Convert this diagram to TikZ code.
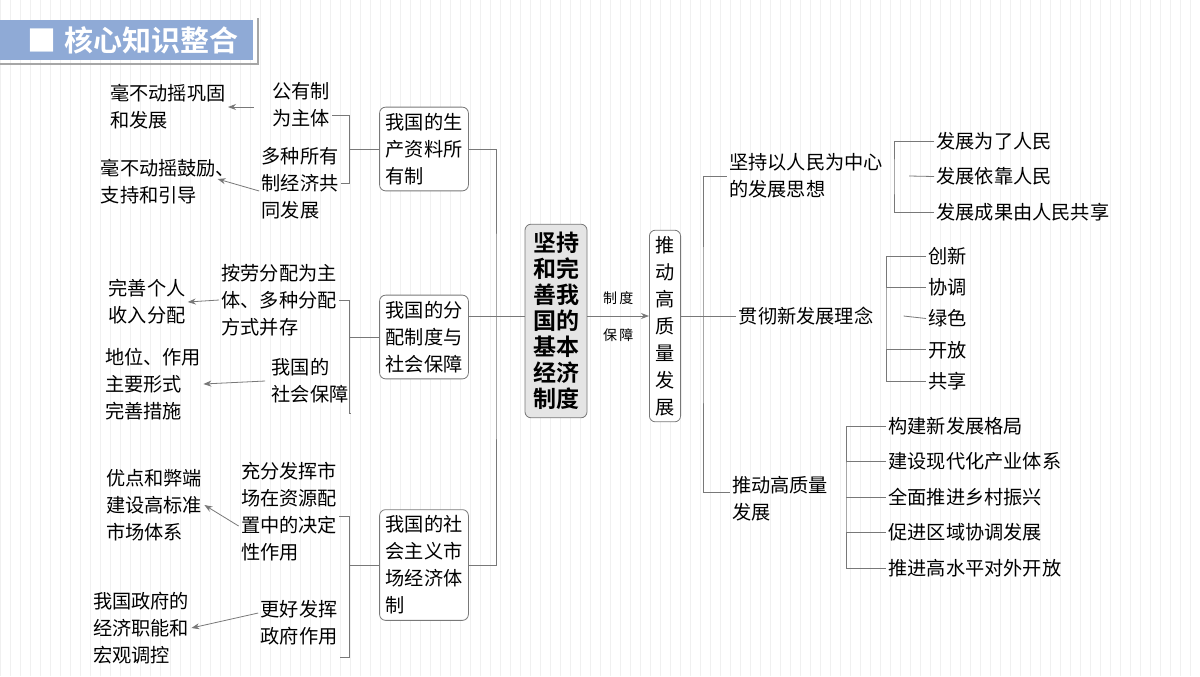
\documentclass[tikz,border=0pt]{standalone}
\usepackage{fontspec}
\newfontfamily\cjk{Noto Sans CJK SC}[BoldFont={Noto Sans CJK SC Bold}]
\usetikzlibrary{positioning,arrows.meta,calc}
\definecolor{titleblue}{RGB}{143,170,214}
\definecolor{linegray}{RGB}{120,120,120}
\tikzset{txt/.style={font=\cjk\fontsize{9.6}{13.5}\selectfont,align=left,inner sep=1pt},
	box/.style={txt,draw=linegray,rounded corners=3pt,fill=white,inner sep=3pt},
	link/.style={draw=linegray,thin},
	arr/.style={link,-{Stealth[length=4pt,width=3pt]}}}
\begin{document}
\begin{tikzpicture}[x=0.5pt,y=-0.5pt]
	\useasboundingbox (0,0) rectangle (1200,676);
	\fill[white] (0,0) rectangle (1200,676);
	\draw[gray!12,very thin,step=10] (0,0) grid (1200,676);
	% title
	\fill[titleblue] (0,20) rectangle (253,60);
	\draw[gray!70,line width=1pt] (0,64) -- (258,64) -- (258,18);
	\node[font=\cjk\bfseries\fontsize{14.5}{16}\selectfont,text=white,anchor=west] (title) at (20,40) {■\hspace{4pt}核心知识整合};
	% centre
	\node[box,fill=gray!20,font=\cjk\bfseries\fontsize{11.5}{13}\selectfont,inner sep=4pt] (core) at (556,321) {坚持\\和完\\善我\\国的\\基本\\经济\\制度};
	\node[box,inner sep=3pt] (goal) at (665,326) {推\\动\\高\\质\\量\\发\\展};
	\draw[arr] (core.east|-0,316) -- (goal.west|-0,316) node[midway,above=2pt,font=\cjk\fontsize{7}{8}\selectfont] (lab1) {制\,度}
		node[midway,below=3pt,font=\cjk\fontsize{7}{8}\selectfont] (lab2) {保\,障};
	% left branches
	\node[box] (pA) at (424,149) {我国的生\\产资料所\\有制};
	\node[box] (pB) at (424,337) {我国的分\\配制度与\\社会保障};
	\node[box] (pC) at (424,565) {我国的社\\会主义市\\场经济体\\制};
	\coordinate (jL) at (496,316);
	\draw[link] (core.west|-jL) -- (jL);
	\draw[link] (pA.east) -| (jL) |- (pC.east);
	\draw[link] (pB.east|-jL) -- (jL);
	\node[txt] (a1) at (301,105) {公有制\\为主体};
	\node[txt] (a2) at (300,183) {多种所有\\制经济共\\同发展};
	\node[txt] (b1) at (279,300) {按劳分配为主\\体、多种分配\\方式并存};
	\node[txt] (b2) at (310,381) {我国的\\社会保障};
	\node[txt] (c1) at (289,512) {充分发挥市\\场在资源配\\置中的决定\\性作用};
	\node[txt] (c2) at (299,623) {更好发挥\\政府作用};
	\draw[link] ([yshift=-5]a1.east) -| ([xshift=-15]pA.west) |- (a2.east);
	\draw[link] ([xshift=-15]pA.west) -- (pA.west);
	\draw[link] (b1.east) -| ([xshift=-15]pB.west) |- ([yshift=-16]b2.east);
	\draw[link] ([xshift=-15]pB.west) -- (pB.west);
	\draw[link] ([yshift=-2]c1.east) -| ([xshift=-15]pC.west) |- ([yshift=-17]c2.east);
	\draw[link] ([xshift=-15]pC.west) -- (pC.west);
	\node[txt] (a1l) at (168,107) {毫不动摇巩固\\和发展};
	\node[txt] (a2l) at (168,182) {毫不动摇鼓励、\\支持和引导};
	\node[txt] (b1l) at (147,302) {完善个人\\收入分配};
	\node[txt] (b2l) at (153,384) {地位、作用\\主要形式\\完善措施};
	\node[txt] (c1l) at (154,505) {优点和弊端\\建设高标准\\市场体系};
	\node[txt] (c2l) at (141,628) {我国政府的\\经济职能和\\宏观调控};
	\draw[arr] ([xshift=-8]a1.west|-a1l) -- (a1l.east);
	\draw[arr] ([yshift=-4]a2.west) -- ([xshift=-10]a2l.east|-0,179);
	\draw[arr] (b1.west) -- (b1l.east);
	\draw[arr] ([xshift=-2]b2.west) -- (b2l.east);
	\draw[arr] ([yshift=-7]c1.west) -- (c1l.east);
	\draw[arr] ([yshift=5]c2.west) -- (c2l.east);
	% right branches
	\node[txt] (r1) at (806,176) {坚持以人民为中心\\的发展思想};
	\node[txt] (r2) at (806,316) {贯彻新发展理念};
	\node[txt] (r3) at (780,499) {推动高质量\\发展};
	\coordinate (jR) at (703,316);
	\draw[link] (goal.east|-jR) -- (r2.west);
	\draw[link] (r1.west) -| (jR) |- (r3.west|-0,492);
	\foreach \t [count=\i] in {发展为了人民,发展依靠人民,发展成果由人民共享}
		\node[txt,anchor=west] (s1\i) at (934,{141+35.5*(\i-1)}) {\t};
	\foreach \t [count=\i] in {创新,协调,绿色,开放,共享}
		\node[txt,anchor=west] (s2\i) at (926,{256+31.25*(\i-1)}) {\t};
	\foreach \t [count=\i] in {构建新发展格局,建设现代化产业体系,全面推进乡村振兴,促进区域协调发展,推进高水平对外开放}
		\node[txt,anchor=west] (s3\i) at (886,{426+35.5*(\i-1)}) {\t};
	\draw[link] ([xshift=12]r1.east) -- (s12.west);
	\draw[link] (s11.west) -| ([xshift=-20]s12.west) |- (s13.west);
	\draw[link] ([xshift=14]r2.east) -- (s23.west);
	\draw[link] (s21.west) -| ([xshift=-20]s23.west) |- (s25.west);
	\foreach \i in {2,4} \draw[link] ([xshift=-20]s2\i.west) -- (s2\i.west);
	\draw[link] ([xshift=12]r3.east|-0,497) -- ([xshift=-20]s33.west) -- (s33.west);
	\draw[link] (s31.west) -| ([xshift=-20]s33.west) |- (s35.west);
	\foreach \i in {2,4} \draw[link] ([xshift=-20]s3\i.west) -- (s3\i.west);
\end{tikzpicture}
\end{document}
